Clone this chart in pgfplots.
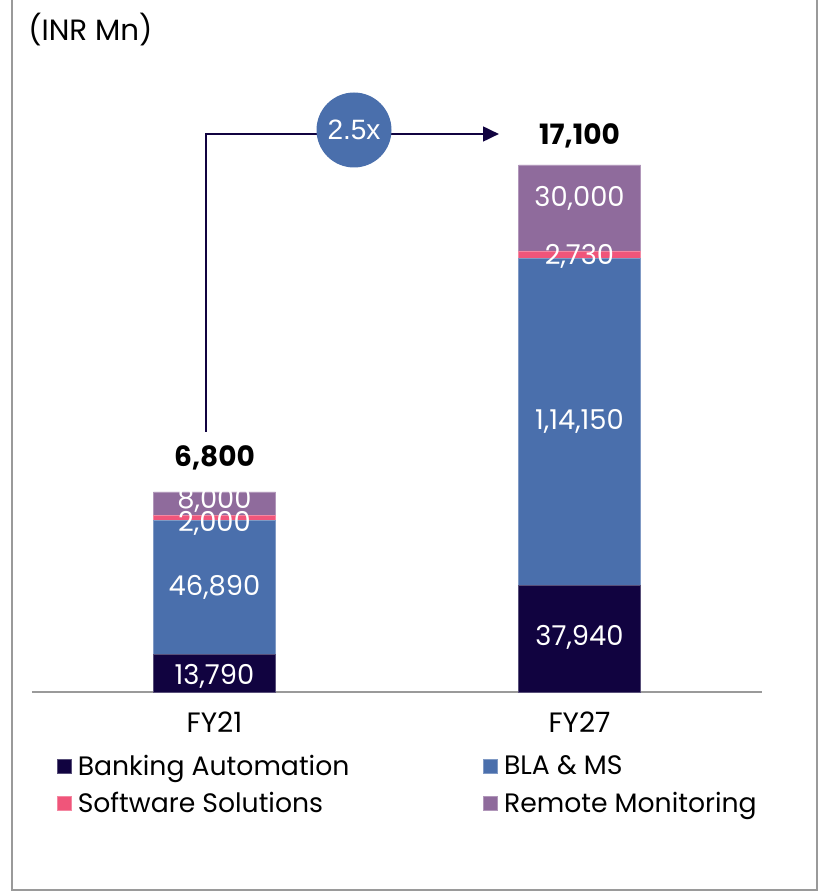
\documentclass[border=0pt]{standalone}
\usepackage{pgfplots}
\pgfplotsset{compat=1.18}
\usepackage{pgfplotstable}
\usepackage{fontspec}
\setmainfont{Poppins}
\newfontfamily\arialfont{Liberation Sans}
\usetikzlibrary{arrows.meta}

\definecolor{navy}{HTML}{110340}
\definecolor{blaBlue}{HTML}{4A6FAC}
\definecolor{swPink}{HTML}{F0557A}
\definecolor{rmPurple}{HTML}{8F6B9C}
\definecolor{frameGray}{HTML}{9A9A9A}

% bar heights (drawn to scale of the totals)
\pgfplotstableread{
x bank bla sw rm
0 1272 4556 180 792
1 3628 11104 262 2924
}\bars

% segment labels
\pgfplotstableread{
x y label
0 544 13,790
0 3570 46,890
0 5746 2,000
0 6528 8,000
1 1870 37,940
1 9214 1,14,150
1 14807 2,730
1 16796 30,000
}\seglabels

% totals
\pgfplotstableread{
x y label
0 7973 6,800
1 18904 17,100
}\totals

\pgfplotsset{chartbox/.style={
    scale only axis, width=547.5pt, height=489pt,
    xmin=-0.5, xmax=1.5, ymin=0, ymax=22168,
    at={(0,0)}, anchor=south west}}

\begin{document}
\begin{tikzpicture}[px/.style={shift={(-24pt,519pt)}, x=0.75pt, y=-0.75pt}]
\begin{axis}[
    chartbox,
    ybar stacked,
    bar width=91.5pt,
    axis x line=bottom,
    axis y line=none,
    x axis line style={-, draw=frameGray, line width=1.6pt},
    xtick=data,
    xticklabels={FY21, FY27},
    major tick length=0pt,
    ytick=\empty,
    xticklabel style={anchor=center, yshift=-22.5pt, font=\fontsize{21}{24}\selectfont},
    legend columns=2,
    legend cell align=left,
    legend image code/.code={\fill[#1] (0pt,-5.25pt) rectangle (10.5pt,5.25pt);},
    legend style={at={(0.034,-0.092)}, anchor=north west, draw=none, fill=none,
        inner sep=0pt, row sep=7pt, font=\fontsize{20}{23}\selectfont,
        nodes={inner xsep=4.5pt},
        /tikz/column 2/.style={column sep=96pt}},
]
\addplot+[fill=navy, draw=navy!70!white, line width=0.5pt] table[x=x, y=bank] \bars;
\addplot+[fill=blaBlue, draw=blaBlue!70!white, line width=0.5pt] table[x=x, y=bla] \bars;
\addplot+[fill=swPink, draw=swPink!70!white, line width=0.5pt] table[x=x, y=sw] \bars;
\addplot+[fill=rmPurple, draw=rmPurple!70!white, line width=0.5pt] table[x=x, y=rm] \bars;
\legend{Banking Automation, BLA \& MS, Software Solutions, Remote Monitoring}
\end{axis}

\begin{axis}[chartbox, hide axis]
\addplot[only marks, mark=none, nodes near coords, point meta=explicit symbolic,
    nodes near coords style={anchor=center, text=white, font=\fontsize{20.5}{24}\selectfont}]
    table[x=x, y=y, meta=label] \seglabels;
\addplot[only marks, mark=none, nodes near coords, point meta=explicit symbolic,
    nodes near coords style={anchor=center, text=black, font=\bfseries\fontsize{21}{25}\selectfont}]
    table[x=x, y=y, meta=label] \totals;
\end{axis}

\begin{scope}[px]
  % frame
  \draw[frameGray, line width=2pt] (12,-5) -- (12,890) -- (817,890) -- (817,-5);
  % unit label
  \node[anchor=west, inner sep=0pt, font=\fontsize{22}{26}\selectfont] at (28,30) {(INR Mn)};
  % growth arrow
  \draw[navy, line width=2pt, -{Triangle[length=12pt,width=11pt]}]
       (206,432) -- (206,134) -- (499,134);
  \fill[blaBlue] (354,130) circle (37.5);
  \node[text=white, font=\arialfont\fontsize{21}{24}\selectfont] at (354,130) {2.5x};
  \pgfresetboundingbox
  \path[use as bounding box] (0,0) rectangle (819,893);
\end{scope}
\end{tikzpicture}
\end{document}
